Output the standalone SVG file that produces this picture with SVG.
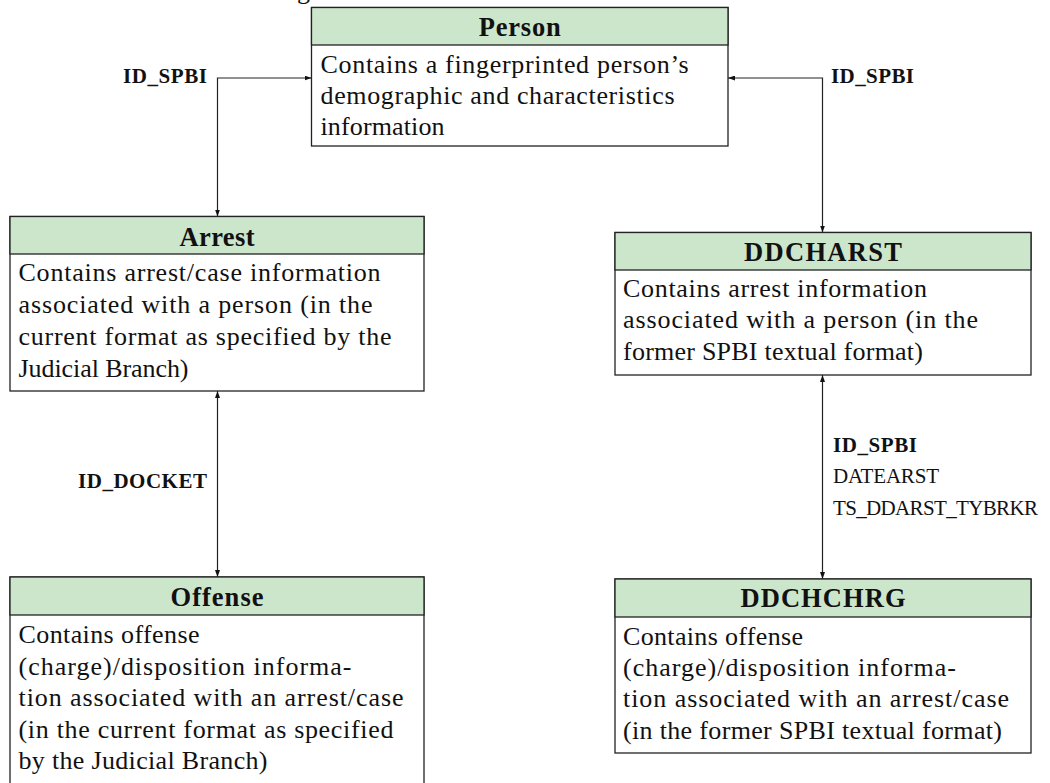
<svg xmlns="http://www.w3.org/2000/svg" width="1050" height="783" viewBox="0 0 1050 783">
<defs>
<marker id="arr" viewBox="0 0 7 5" refX="7" refY="2.5" markerWidth="7" markerHeight="5" markerUnits="userSpaceOnUse" orient="auto-start-reverse">
<path d="M0,0 L7,2.5 L0,5 z" fill="#111"/>
</marker>
<style>
.box{fill:#fff;stroke:#222;stroke-width:1.3}
.hdr{fill:#cce6cc;stroke:#222;stroke-width:1.3}
.ttl{font-family:"Liberation Serif",serif;font-weight:bold;font-size:26.5px;fill:#111}
.txt{font-family:"Liberation Serif",serif;font-size:26px;fill:#111}
.lbl{font-family:"Liberation Serif",serif;font-size:21px;fill:#111}
.b{font-weight:bold}
.con{fill:none;stroke:#222;stroke-width:1.2;marker-start:url(#arr);marker-end:url(#arr)}
</style>
</defs>
<rect width="1050" height="783" fill="#fff"/>
<text class="txt" x="297" y="-1">g</text>

<g id="connectors">
<path class="con" d="M311.5 78 H217.5 V216.5"/>
<path class="con" d="M728 78 H822.5 V232.5"/>
<path class="con" d="M217.5 391 V577"/>
<path class="con" d="M822.5 375 V579"/>
<text class="lbl b" x="123" y="83" textLength="84">ID_SPBI</text>
<text class="lbl b" x="831" y="83" textLength="83">ID_SPBI</text>
<text class="lbl b" x="78" y="488" textLength="129">ID_DOCKET</text>
<text class="lbl b" x="833" y="452" textLength="84">ID_SPBI</text>
<text class="lbl" x="833" y="483" textLength="106">DATEARST</text>
<text class="lbl" x="833" y="514.5" textLength="205">TS_DDARST_TYBRKR</text>
</g>

<g id="person">
<rect class="box" x="311.5" y="7.5" width="416.5" height="138.5"/>
<rect class="hdr" x="311.5" y="7.5" width="416.5" height="37.5"/>
<text class="ttl" x="478.75" y="36" textLength="82">Person</text>
<text class="txt" x="320.5" y="73" textLength="368">Contains a fingerprinted person’s</text>
<text class="txt" x="320.5" y="104" textLength="354">demographic and characteristics</text>
<text class="txt" x="320.5" y="134.5" textLength="124">information</text>
</g>

<g id="arrest">
<rect class="box" x="10" y="216.5" width="414" height="174.5"/>
<rect class="hdr" x="10" y="216.5" width="414" height="37.5"/>
<text class="ttl" x="179.5" y="245.5" textLength="75">Arrest</text>
<text class="txt" x="18.5" y="281" textLength="362">Contains arrest/case information</text>
<text class="txt" x="18.5" y="313" textLength="354">associated with a person (in the</text>
<text class="txt" x="18.5" y="345" textLength="373">current format as specified by the</text>
<text class="txt" x="18.5" y="376.5" textLength="170">Judicial Branch)</text>
</g>

<g id="ddcharst">
<rect class="box" x="615" y="232.5" width="416" height="142.5"/>
<rect class="hdr" x="615" y="232.5" width="416" height="37.5"/>
<text class="ttl" x="744" y="261" textLength="158">DDCHARST</text>
<text class="txt" x="623" y="296.5" textLength="304">Contains arrest information</text>
<text class="txt" x="623" y="328" textLength="355">associated with a person (in the</text>
<text class="txt" x="623" y="360" textLength="300">former SPBI textual format)</text>
</g>

<g id="offense">
<rect class="box" x="10" y="577" width="414" height="230"/>
<rect class="hdr" x="10" y="577" width="414" height="38"/>
<text class="ttl" x="170.5" y="606" textLength="93">Offense</text>
<text class="txt" x="18.5" y="643" textLength="181">Contains offense</text>
<text class="txt" x="18.5" y="674.5" textLength="333">(charge)/disposition informa-</text>
<text class="txt" x="18.5" y="706" textLength="385">tion associated with an arrest/case</text>
<text class="txt" x="18.5" y="737.5" textLength="375">(in the current format as specified</text>
<text class="txt" x="18.5" y="768.5" textLength="249">by the Judicial Branch)</text>
</g>

<g id="ddchchrg">
<rect class="box" x="615" y="579" width="416" height="174"/>
<rect class="hdr" x="615" y="579" width="416" height="38"/>
<text class="ttl" x="740.5" y="607" textLength="165">DDCHCHRG</text>
<text class="txt" x="623" y="644.5" textLength="180">Contains offense</text>
<text class="txt" x="623" y="675.5" textLength="333">(charge)/disposition informa-</text>
<text class="txt" x="623" y="707" textLength="386">tion associated with an arrest/case</text>
<text class="txt" x="623" y="738.5" textLength="379">(in the former SPBI textual format)</text>
</g>
</svg>
